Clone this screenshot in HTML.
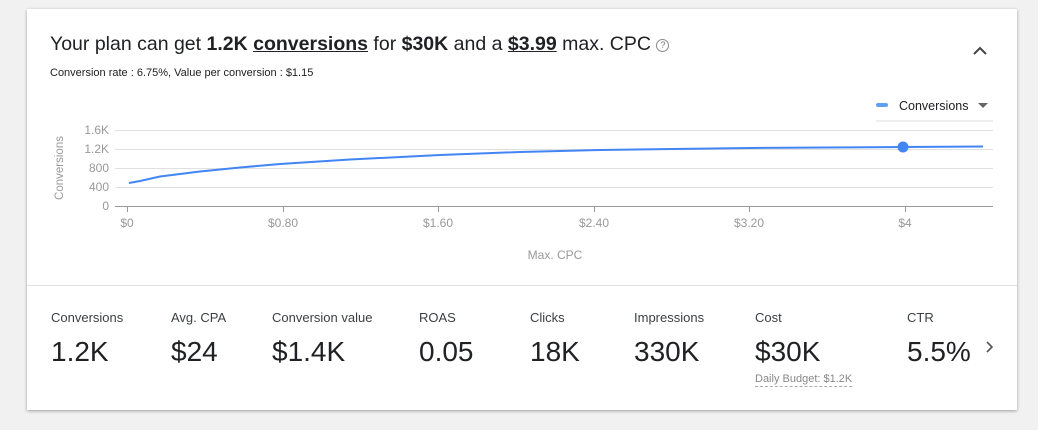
<!DOCTYPE html>
<html><head><meta charset="utf-8"><style>
body{margin:0;width:1038px;height:430px;background:#f1f1f1;position:relative;overflow:hidden;font-family:"Liberation Sans",Arial,sans-serif;color:#212121}
.card{position:absolute;left:27px;top:9px;width:990px;height:401px;background:#fff;box-shadow:0 1px 3px rgba(0,0,0,.35)}
.a{position:absolute;white-space:nowrap}
.lab{font-size:13px;color:#3c4043;top:310px}
.val{font-size:28px;color:#202124;top:336px}
</style></head><body>
<div class="card"></div>
<div class="a" style="left:50px;top:33px;font-size:19.5px;color:#202124">Your plan can get <b>1.2K</b> <b style="text-decoration:underline">conversions</b> for <b>$30K</b> and a <b style="text-decoration:underline">$3.99</b> max. CPC <span style="color:#777;border:1px solid #888;border-radius:50%;display:inline-block;width:11px;height:11px;line-height:11px;text-align:center;font-size:9px;vertical-align:2px">?</span></div>
<div class="a" style="left:50px;top:67px;font-size:11px;color:#202124">Conversion rate : 6.75%, Value per conversion : $1.15</div>
<svg class="a" style="left:0;top:0" width="1038" height="430">
<path d="M974 54 L980 48 L986 54" fill="none" stroke="#444" stroke-width="2"/>
<rect x="876" y="103" width="12" height="4" rx="2" fill="#5f9ff5"/>
<text x="899" y="110" font-size="12.5" fill="#202124" font-family="Liberation Sans">Conversions</text>
<path d="M978 103 L988 103 L983 108 Z" fill="#666"/>
<line x1="876" y1="121" x2="993" y2="121" stroke="#ddd"/>
<g stroke="#e0e0e0" stroke-width="1">
<line x1="115" y1="130.5" x2="993" y2="130.5"/><line x1="115" y1="149.5" x2="993" y2="149.5"/>
<line x1="115" y1="168.5" x2="993" y2="168.5"/><line x1="115" y1="187.5" x2="993" y2="187.5"/>
</g>
<line x1="115" y1="206.5" x2="993" y2="206.5" stroke="#999"/>
<g stroke="#999"><line x1="127.5" y1="206" x2="127.5" y2="212"/><line x1="283.5" y1="206" x2="283.5" y2="212"/><line x1="438.5" y1="206" x2="438.5" y2="212"/><line x1="594.5" y1="206" x2="594.5" y2="212"/><line x1="749.5" y1="206" x2="749.5" y2="212"/><line x1="905.5" y1="206" x2="905.5" y2="212"/></g>
<g font-size="12" fill="#999" font-family="Liberation Sans" text-anchor="end">
<text x="109" y="134">1.6K</text><text x="109" y="153">1.2K</text><text x="109" y="172">800</text><text x="109" y="191">400</text><text x="109" y="210">0</text></g>
<g font-size="12" fill="#999" font-family="Liberation Sans" text-anchor="middle">
<text x="127" y="227">$0</text><text x="283" y="227">$0.80</text><text x="438" y="227">$1.60</text><text x="594" y="227">$2.40</text><text x="749" y="227">$3.20</text><text x="905" y="227">$4</text>
<text x="555" y="259">Max. CPC</text></g>
<text transform="translate(63,168) rotate(-90)" font-size="11.5" fill="#999" font-family="Liberation Sans" text-anchor="middle">Conversions</text>
<path d="M129 183 L140 181 L160 176.5 L200 171.5 L240 167.5 L280 164 L350 159.5 L440 155 L520 152 L600 150 L750 148 L903 147 L983 146.5" fill="none" stroke="#4285f4" stroke-width="2"/>
<circle cx="903" cy="147" r="5.5" fill="#4285f4"/>
<line x1="27" y1="285.5" x2="1017" y2="285.5" stroke="#e0e0e0"/>
<path d="M987 342 L992 347 L987 352" fill="none" stroke="#555" stroke-width="1.6"/>
</svg>
<div class="a lab" style="left:51px">Conversions</div><div class="a val" style="left:51px">1.2K</div>
<div class="a lab" style="left:171px">Avg. CPA</div><div class="a val" style="left:171px">$24</div>
<div class="a lab" style="left:272px">Conversion value</div><div class="a val" style="left:272px">$1.4K</div>
<div class="a lab" style="left:419px">ROAS</div><div class="a val" style="left:419px">0.05</div>
<div class="a lab" style="left:530px">Clicks</div><div class="a val" style="left:530px">18K</div>
<div class="a lab" style="left:634px">Impressions</div><div class="a val" style="left:634px">330K</div>
<div class="a lab" style="left:755px">Cost</div><div class="a val" style="left:755px">$30K</div>
<div class="a" style="left:755px;top:373px;font-size:11px;color:#888;border-bottom:1px dashed #aaa;padding-bottom:1px">Daily Budget: $1.2K</div>
<div class="a lab" style="left:907px">CTR</div><div class="a val" style="left:907px;width:66px;overflow:hidden">5.5%</div>
</body></html>
